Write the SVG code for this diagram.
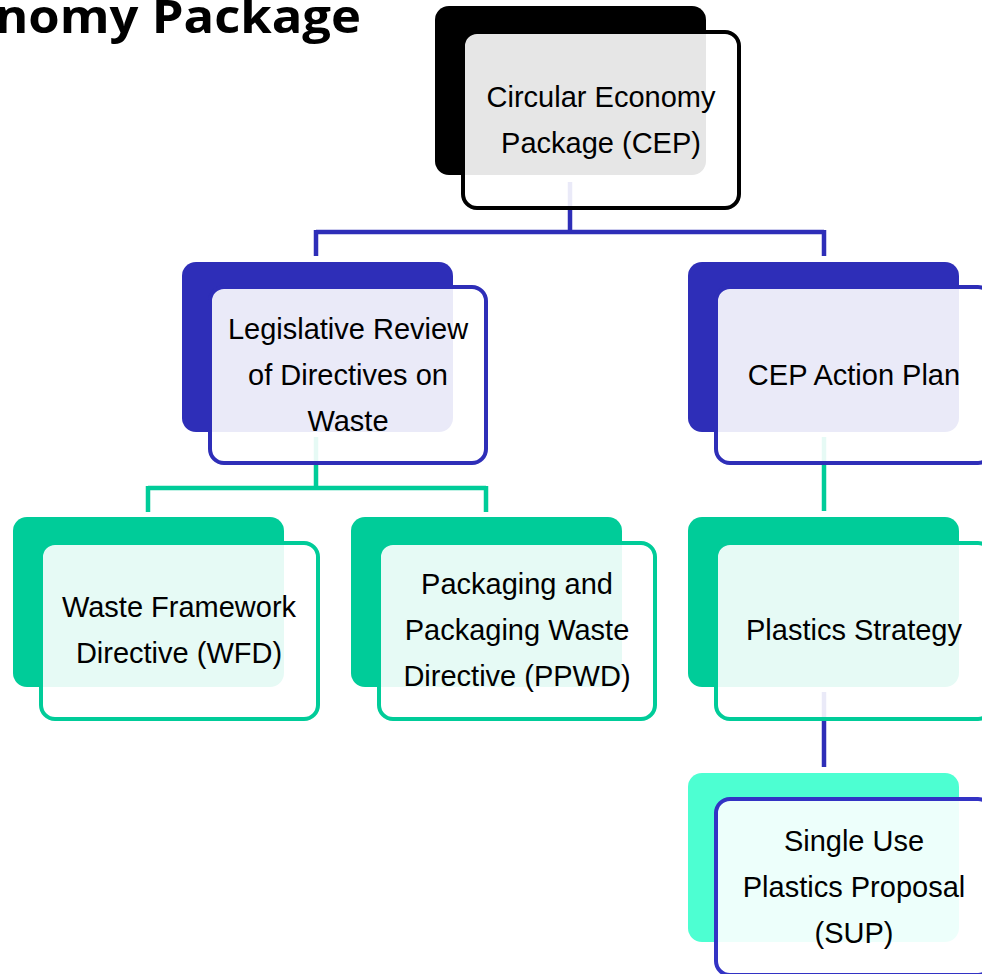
<svg xmlns="http://www.w3.org/2000/svg" width="982" height="974" viewBox="0 0 982 974">
<defs>
<style>
.back{stroke:none}
.front{fill:#ffffff;fill-opacity:0.9;stroke-width:4}
.lbl{font-family:"Liberation Sans",Arial,sans-serif;font-size:29px;fill:#000;text-anchor:middle}
.title{font-family:"Open Sans","Noto Sans",sans-serif;font-weight:bold;font-size:46px;fill:#000}
.cb{fill:none;stroke:#2E2EB8;stroke-width:4.5}
.cg{fill:none;stroke:#00CC99;stroke-width:4.5}
</style>
</defs>
<rect width="982" height="974" fill="#ffffff"/>
<text class="title" x="-5" y="33" textLength="366" lengthAdjust="spacingAndGlyphs">nomy Package</text>
<g id="connectors">
<path class="cb" d="M570,182 V232 M316,232 H824 M316,230 V256 M824,230 V256"/>
<path class="cg" d="M316,437 V488 M148,488 H486 M148,486 V512 M486,486 V512"/>
<path class="cg" d="M824,437 V511"/>
<path class="cb" d="M824,692 V767"/>
</g>
<g id="node-cep">
<rect class="back" x="435" y="6" width="271" height="169" rx="14" fill="#000000"/>
<rect class="front" x="463" y="32" width="276" height="176" rx="14" stroke="#000000"/>
<text class="lbl" x="601" y="107">Circular Economy</text>
<text class="lbl" x="601" y="153">Package (CEP)</text>
</g>
<g id="node-legislative">
<rect class="back" x="182" y="262" width="271" height="170" rx="14" fill="#2E2EB8"/>
<rect class="front" x="210" y="287" width="276" height="176" rx="14" stroke="#2E2EB8"/>
<text class="lbl" x="348" y="339">Legislative Review</text>
<text class="lbl" x="348" y="385">of Directives on</text>
<text class="lbl" x="348" y="431">Waste</text>
</g>
<g id="node-action-plan">
<rect class="back" x="688" y="262" width="271" height="170" rx="14" fill="#2E2EB8"/>
<rect class="front" x="716" y="287" width="276" height="176" rx="14" stroke="#2E2EB8"/>
<text class="lbl" x="854" y="385">CEP Action Plan</text>
</g>
<g id="node-wfd">
<rect class="back" x="13" y="517" width="271" height="170" rx="14" fill="#00CC99"/>
<rect class="front" x="41" y="543" width="277" height="176" rx="14" stroke="#00CC99"/>
<text class="lbl" x="179" y="617">Waste Framework</text>
<text class="lbl" x="179" y="663">Directive (WFD)</text>
</g>
<g id="node-ppwd">
<rect class="back" x="351" y="517" width="271" height="170" rx="14" fill="#00CC99"/>
<rect class="front" x="379" y="543" width="276" height="176" rx="14" stroke="#00CC99"/>
<text class="lbl" x="517" y="594">Packaging and</text>
<text class="lbl" x="517" y="640">Packaging Waste</text>
<text class="lbl" x="517" y="686">Directive (PPWD)</text>
</g>
<g id="node-plastics">
<rect class="back" x="688" y="517" width="271" height="170" rx="14" fill="#00CC99"/>
<rect class="front" x="716" y="543" width="276" height="176" rx="14" stroke="#00CC99"/>
<text class="lbl" x="854" y="640">Plastics Strategy</text>
</g>
<g id="node-sup">
<rect class="back" x="688" y="773" width="271" height="169" rx="14" fill="#4DFFD2"/>
<rect class="front" x="716" y="799" width="276" height="176" rx="14" stroke="#3333C4"/>
<text class="lbl" x="854" y="851">Single Use</text>
<text class="lbl" x="854" y="897">Plastics Proposal</text>
<text class="lbl" x="854" y="943">(SUP)</text>
</g>
</svg>
